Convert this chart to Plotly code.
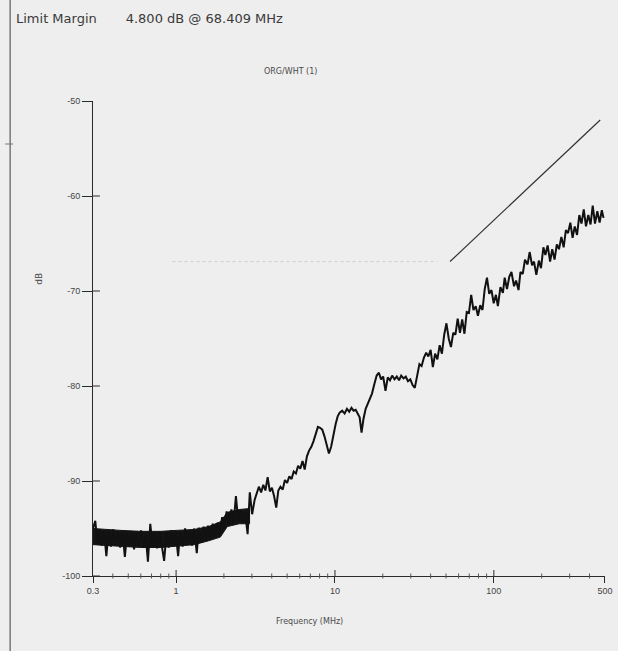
import plotly.graph_objects as go

# ---- measured spectrum (frequency in MHz, level in dB) ----
freq_mhz = [
    0.300, 0.310, 0.320, 0.330, 0.340, 0.352, 0.364, 0.376, 0.389, 0.402,
    0.416, 0.430, 0.445, 0.460, 0.476, 0.492, 0.509, 0.526, 0.544, 0.563,
    0.582, 0.602, 0.622, 0.643, 0.665, 0.688, 0.711, 0.735, 0.760, 0.786,
    0.813, 0.841, 0.870, 0.900, 0.930, 0.962, 0.995, 1.03, 1.06, 1.10,
    1.14, 1.18, 1.22, 1.26, 1.30, 1.35, 1.39, 1.44, 1.49, 1.54,
    1.59, 1.65, 1.70, 1.76, 1.82, 1.88, 1.95, 2.01, 2.08, 2.15,
    2.23, 2.30, 2.38, 2.46, 2.55, 2.63, 2.72, 2.82, 2.91, 3.01,
    3.12, 3.22, 3.32, 3.43, 3.54, 3.65, 3.77, 3.89, 4.01, 4.14,
    4.27, 4.40, 4.54, 4.69, 4.84, 5.00, 5.16, 5.33, 5.50, 5.68,
    5.86, 6.05, 6.25, 6.45, 6.66, 6.87, 7.10, 7.33, 7.57, 7.81,
    8.06, 8.32, 8.59, 8.87, 9.16, 9.46, 9.77, 10.1, 10.4, 10.7,
    11.1, 11.5, 11.9, 12.3, 12.7, 13.1, 13.5, 13.9, 14.3, 14.7,
    15.1, 15.6, 16.1, 16.6, 17.1, 17.7, 18.3, 18.9, 19.5, 20.1,
    20.8, 21.5, 22.2, 22.9, 23.7, 24.5, 25.3, 26.1, 27.0, 27.9,
    28.8, 29.8, 30.8, 31.8, 32.9, 34.0, 35.1, 36.3, 37.5, 38.7,
    40.0, 41.3, 42.7, 44.1, 45.6, 47.1, 48.7, 50.3, 52.0, 53.7,
    55.5, 57.3, 59.2, 61.2, 63.2, 65.3, 67.5, 69.7, 72.0, 74.4,
    76.9, 79.4, 82.1, 84.8, 87.6, 90.5, 93.5, 96.6, 99.8, 103,
    106, 110, 114, 117, 121, 125, 129, 134, 138, 143,
    147, 152, 157, 163, 168, 174, 179, 185, 192, 198,
    205, 211, 218, 226, 233, 241, 249, 257, 266, 275,
    284, 293, 303, 313, 323, 334, 345, 356, 368, 380,
    393, 406, 419, 433, 448, 463, 478, 490,
]
level_db = [
    -95.0, -94.2, -96.6, -95.1, -96.8, -95.2, -97.9, -95.3, -96.9, -95.1,
    -96.7, -95.4, -97.0, -95.3, -98.0, -95.4, -96.9, -95.3, -97.2, -95.5,
    -96.8, -95.2, -97.0, -95.6, -98.5, -94.5, -96.9, -95.4, -97.1, -95.3,
    -96.8, -98.4, -95.5, -97.0, -95.2, -96.8, -95.4, -97.9, -95.3, -96.9,
    -95.0, -96.7, -95.2, -96.8, -95.0, -97.6, -94.9, -96.5, -94.8, -96.3,
    -94.7, -96.1, -94.5, -95.9, -94.4, -95.6, -93.8, -95.0, -93.2, -94.6,
    -93.0, -94.5, -91.6, -94.2, -93.1, -94.4, -93.3, -95.6, -91.2, -93.5,
    -92.0, -91.4, -90.6, -91.2, -90.4, -91.0, -89.6, -91.1, -90.7, -91.6,
    -92.8, -91.0, -90.6, -90.9, -89.9, -90.2, -89.5, -89.8, -89.0, -89.2,
    -88.4, -88.7, -87.9, -88.8, -87.4, -86.8, -86.4, -85.8, -84.9, -84.3,
    -84.4, -84.6, -85.3, -86.3, -87.1, -86.4, -85.0, -84.0, -83.2, -82.8,
    -82.6, -82.9, -82.4, -82.7, -82.3, -82.6, -82.5, -82.9, -83.3, -84.9,
    -83.5, -82.4, -81.9, -81.3, -80.8, -79.8, -78.9, -78.6, -79.3, -79.0,
    -80.5, -79.1, -79.4, -78.9, -79.3, -79.0, -79.4, -78.9, -79.2, -79.0,
    -79.5, -79.3, -79.9, -80.2, -78.9, -77.7, -77.9, -77.0, -76.5, -76.9,
    -76.2, -78.0, -76.6, -77.2, -75.7, -76.6, -74.6, -73.4, -75.0, -75.9,
    -74.4, -74.6, -72.9, -74.4, -73.0, -74.5, -72.2, -72.3, -70.4, -72.0,
    -71.6, -72.6, -71.5, -72.0, -69.8, -68.6, -70.3, -69.9, -71.3, -70.4,
    -71.6, -69.6, -70.2, -68.6, -69.8, -68.5, -68.0, -69.5, -68.9, -69.9,
    -68.0, -68.2, -66.7, -67.2, -65.9, -67.3, -66.9, -68.3, -66.8, -67.6,
    -65.4, -66.2, -65.2, -66.9, -65.6, -66.7, -65.1, -65.6, -64.3, -65.4,
    -63.6, -63.9, -62.8, -64.4, -63.2, -64.1, -62.0, -62.9, -61.4, -63.2,
    -62.0, -63.0, -61.0, -62.9, -61.6, -62.8, -61.5, -62.3,
]

# ---- core of the noise floor at low frequency ----
band_freq = [0.30, 0.35, 0.45, 0.60, 0.80, 1.00, 1.30, 1.60, 1.90, 2.10, 2.50, 2.90]
band_upper = [-95.0, -95.1, -95.2, -95.3, -95.3, -95.2, -95.1, -94.8, -94.3, -93.3, -93.0, -92.9]
band_lower = [-96.7, -96.8, -96.9, -97.0, -97.0, -96.9, -96.7, -96.3, -95.9, -94.8, -94.5, -94.5]

# ---- limit line and faint reference level ----
limit_freq = [53.0, 467.0]
limit_db = [-66.9, -52.0]
ref_freq = [0.95, 44.0]
ref_db = [-66.9, -66.9]

# ---- axis ticks ----
x_tickvals = [0.3, 1, 10, 100, 500]
x_ticktext = ["0.3", "1", "10", "100", "500"]
x_major_cross = [1, 10, 100]
x_minor = [0.4, 0.5, 0.6, 0.7, 0.8, 0.9,
           2, 3, 4, 5, 6, 7, 8, 9,
           20, 30, 40, 50, 60, 70, 80, 90,
           200, 300, 400]
y_tickvals = [-100, -90, -80, -70, -60, -50]
y_ticktext = ["-100", "-90", "-80", "-70", "-60", "-50"]
y_cross = [-100, -90, -80, -70, -60]

W, H = 618, 651
ML, MR, MT, MB = 93, 6, 101, 75
PW, PH = W - ML - MR, H - MT - MB


def px_x(px):
    return (px - ML) / PW


def px_y(py):
    return (H - MB - py) / PH


INK = "#2b2b2b"
BG = "#eeeeee"

fig = go.Figure()

fig.add_trace(go.Scatter(
    x=ref_freq, y=ref_db, mode="lines",
    line=dict(color="#cdcdcd", width=1, dash="dot"),
    hoverinfo="skip", showlegend=False,
))
fig.add_trace(go.Scatter(
    x=limit_freq, y=limit_db, mode="lines",
    line=dict(color="#333333", width=1.2),
    showlegend=False,
))
fig.add_trace(go.Scatter(
    x=band_freq + band_freq[::-1], y=band_upper + band_lower[::-1],
    mode="lines", fill="toself", fillcolor="#141414",
    line=dict(color="#141414", width=1),
    hoverinfo="skip", showlegend=False,
))
fig.add_trace(go.Scatter(
    x=freq_mhz, y=level_db, mode="lines",
    line=dict(color="#111111", width=2.0),
    showlegend=False,
))

axis_font = dict(family="Liberation Sans, Arial, sans-serif", size=9, color="#444444")
x_range = [-0.5229, 2.6995]

fig.update_layout(
    width=W, height=H, autosize=False,
    margin=dict(l=ML, r=MR, t=MT, b=MB, pad=0),
    paper_bgcolor=BG, plot_bgcolor=BG,
    xaxis=dict(
        type="log", range=x_range,
        tickvals=x_tickvals, ticktext=x_ticktext,
        ticks="outside", ticklen=6, tickcolor=INK, tickwidth=1,
        ticklabeloverflow="allow",
        showline=True, linecolor=INK, linewidth=1,
        showgrid=False, zeroline=False, tickfont=axis_font,
    ),
    yaxis=dict(
        range=[-100, -50],
        tickvals=y_tickvals, ticktext=y_ticktext,
        ticks="outside", ticklen=10, tickcolor=INK, tickwidth=1,
        showline=True, linecolor=INK, linewidth=1,
        showgrid=False, zeroline=False, tickfont=axis_font,
    ),
    font=dict(family="DejaVu Sans, sans-serif", color="#444444"),
)

# inner half of the crossing major ticks and the small minor ticks
for v in x_major_cross:
    fig.add_shape(type="line", xref="x", yref="paper",
                  x0=v, x1=v, y0=0, y1=6 / PH,
                  line=dict(color=INK, width=1))
for v in x_minor:
    fig.add_shape(type="line", xref="x", yref="paper",
                  x0=v, x1=v, y0=-2.5 / PH, y1=2.5 / PH,
                  line=dict(color="#555555", width=1))
for v in y_cross:
    fig.add_shape(type="line", xref="paper", yref="y",
                  x0=0, x1=7 / PW, y0=v, y1=v,
                  line=dict(color=INK, width=1))

fig.add_annotation(
    xref="paper", yref="paper", x=px_x(13), y=px_y(18),
    xanchor="left", yanchor="middle", showarrow=False,
    text="Limit Margin" + "\u00a0" * 7 + "4.800 dB @ 68.409 MHz",
    font=dict(family="DejaVu Sans, sans-serif", size=13, color="#3a3a3a"),
)
fig.add_annotation(
    xref="paper", yref="paper", x=px_x(293), y=px_y(72),
    xanchor="center", yanchor="middle", showarrow=False,
    text="ORG/WHT (1)",
    font=dict(family="DejaVu Sans, sans-serif", size=8, color="#4a4a4a"),
)
fig.add_annotation(
    xref="paper", yref="paper", x=px_x(38), y=px_y(279),
    xanchor="center", yanchor="middle", showarrow=False, textangle=-90,
    text="dB",
    font=dict(family="DejaVu Sans, sans-serif", size=9, color="#4a4a4a"),
)
fig.add_annotation(
    xref="paper", yref="paper", x=px_x(312), y=px_y(621),
    xanchor="center", yanchor="middle", showarrow=False,
    text="Frequency (MHz)",
    font=dict(family="DejaVu Sans, sans-serif", size=8, color="#4a4a4a"),
)

# page edge on the left and a small mark across it
fig.add_shape(type="line", xref="paper", yref="paper",
              x0=px_x(9), x1=px_x(9), y0=px_y(0), y1=px_y(651),
              line=dict(color="#5a5a5a", width=1.2))
fig.add_shape(type="line", xref="paper", yref="paper",
              x0=px_x(4), x1=px_x(12), y0=px_y(144), y1=px_y(144),
              line=dict(color="#777777", width=1))

fig.write_html("out.html")
